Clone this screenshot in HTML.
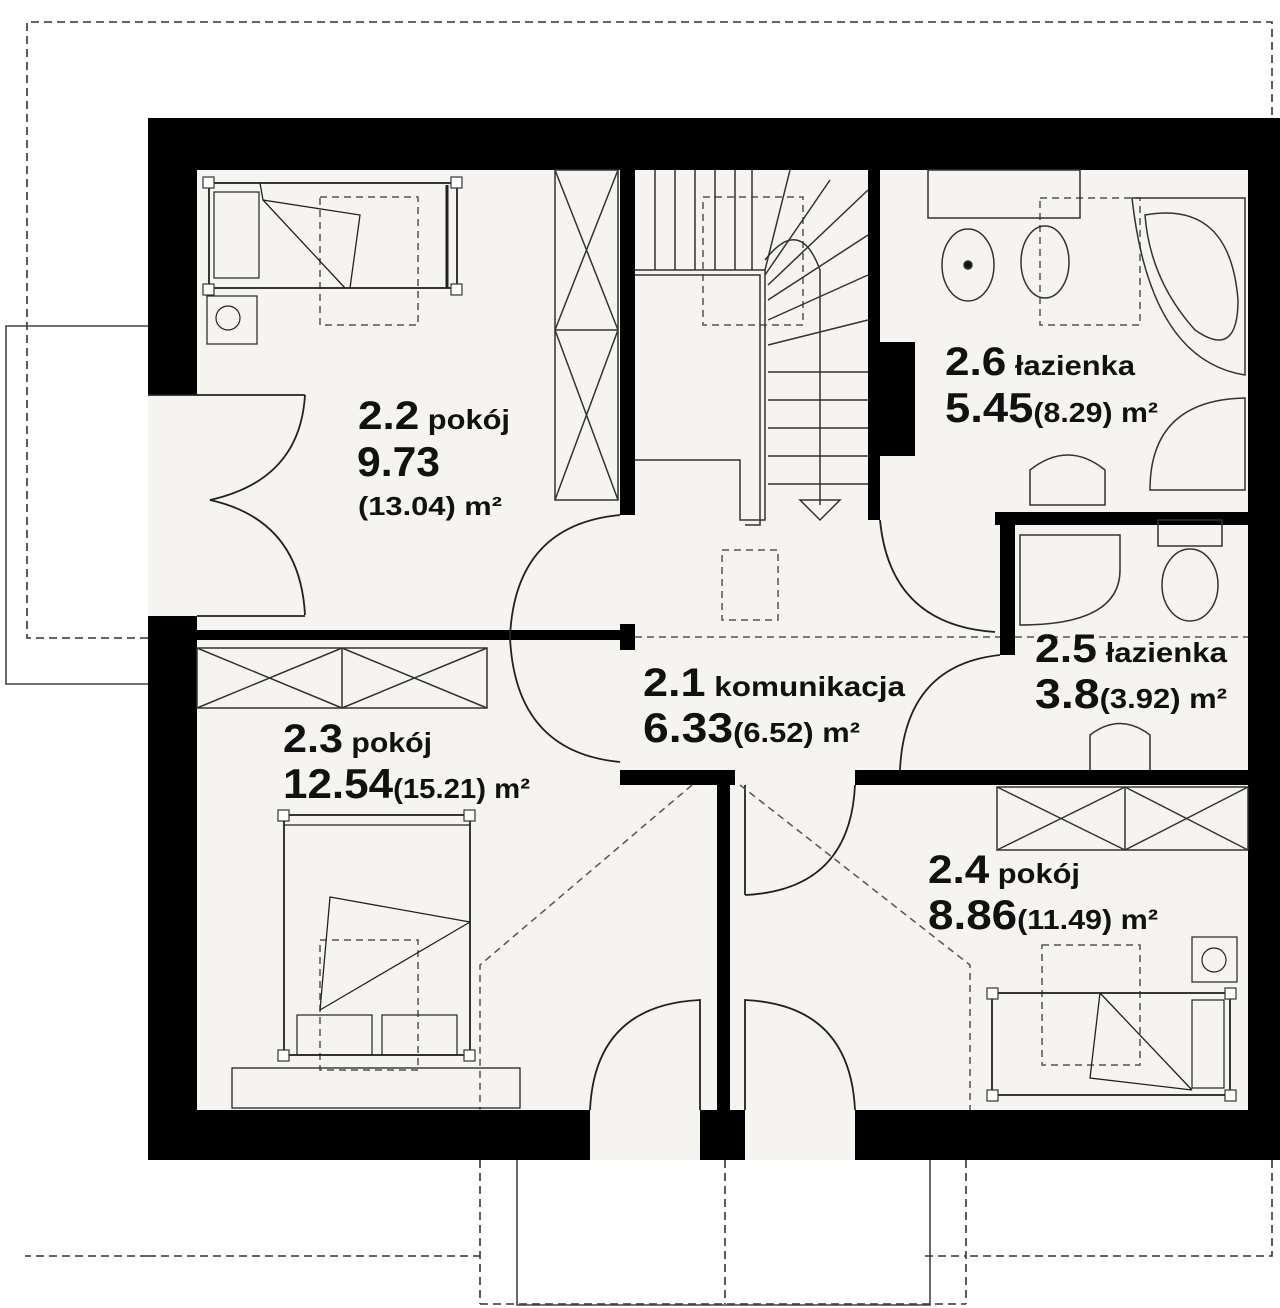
<!DOCTYPE html>
<html><head><meta charset="utf-8"><style>
html,body{margin:0;padding:0;background:#fff;}
svg{display:block;}
text{font-family:"Liberation Sans",sans-serif;font-weight:bold;fill:#111;}
</style></head><body>
<svg width="1280" height="1308" viewBox="0 0 1280 1308" xmlns="http://www.w3.org/2000/svg">
<g fill="none" stroke="#333" stroke-width="1.6" stroke-dasharray="8,5">
<polyline points="148,638 27,638 27,22 1272,22 1272,1256 968,1256"/>
<line x1="148" y1="1256" x2="25" y2="1256"/>
<line x1="148" y1="1256" x2="480" y2="1256"/>
<line x1="480" y1="1160" x2="480" y2="1304"/>
<line x1="966" y1="1160" x2="966" y2="1304"/>
<line x1="725" y1="1160" x2="725" y2="1304"/>
<line x1="480" y1="1304" x2="966" y2="1304"/>
<line x1="925" y1="1256" x2="966" y2="1256"/>
</g>
<g fill="none" stroke="#444" stroke-width="1.6">
<polyline points="148,326 6,326 6,684 148,684"/>
<polyline points="517,1160 517,1305 930,1305 930,1160"/>
</g>
<rect x="148" y="118" width="1132" height="1042" fill="#f6f4f0"/>
<g fill="#000">
<rect x="148" y="118" width="1132" height="52"/>
<rect x="1248" y="118" width="32" height="1042"/>
<rect x="148" y="118" width="49" height="277"/>
<rect x="148" y="616" width="49" height="544"/>
<rect x="148" y="1110" width="442" height="50"/>
<rect x="700" y="1110" width="45" height="50"/>
<rect x="855" y="1110" width="425" height="50"/>
<rect x="620" y="170" width="15" height="345"/>
<rect x="197" y="630" width="423" height="10"/>
<rect x="620" y="624" width="15" height="26"/>
<rect x="868" y="170" width="12" height="350"/>
<rect x="880" y="342" width="35" height="114"/>
<rect x="995" y="512" width="253" height="13"/>
<rect x="1000" y="512" width="15" height="143"/>
<rect x="620" y="770" width="115" height="15"/>
<rect x="855" y="770" width="393" height="15"/>
<rect x="717" y="770" width="13" height="340"/>
</g>
<g fill="none" stroke="#222" stroke-width="1.8">
<line x1="148" y1="395" x2="305" y2="395"/>
<path d="M305,395 Q300,480 210,500 Q300,520 305,615"/>
<line x1="197" y1="616" x2="305" y2="616"/>
<path d="M620,515 Q515,525 510,637 Q515,752 620,762"/>
<path d="M880,520 Q890,625 995,632"/>
<path d="M1000,655 Q905,665 900,770"/>
<line x1="745" y1="785" x2="745" y2="895"/>
<path d="M745,895 Q850,890 855,785"/>
<path d="M590,1110 Q595,1005 700,1000 L700,1110"/>
<path d="M745,1110 L745,1000 Q850,1005 855,1110"/>
</g>
<g fill="none" stroke="#555" stroke-width="1.5" stroke-dasharray="7,5">
<line x1="635" y1="637" x2="1000" y2="637"/>
<line x1="1015" y1="637" x2="1248" y2="637"/>
<rect x="703" y="197" width="100" height="128"/>
<rect x="722" y="550" width="56" height="70"/>
<rect x="320" y="197" width="98" height="128"/>
<rect x="1040" y="198" width="100" height="127"/>
<rect x="320" y="940" width="98" height="130"/>
<rect x="1042" y="945" width="98" height="120"/>
<polyline points="692,785 480,965 480,1110"/>
<polyline points="740,785 970,965 970,1110"/>
</g>
<g fill="none" stroke="#333" stroke-width="1.5">
<rect x="555" y="170" width="63" height="330"/>
<line x1="555" y1="330" x2="618" y2="330"/>
<path d="M555,170 L618,330 M618,170 L555,330 M555,330 L618,500 M618,330 L555,500"/>
<rect x="197" y="648" width="290" height="60"/>
<line x1="342" y1="648" x2="342" y2="708"/>
<path d="M197,648 L342,708 M342,648 L197,708 M342,648 L487,708 M487,648 L342,708"/>
<rect x="997" y="787" width="251" height="63"/>
<line x1="1125" y1="787" x2="1125" y2="850"/>
<path d="M997,787 L1125,850 M1125,787 L997,850 M1125,787 L1248,850 M1248,787 L1125,850"/>
</g>
<g fill="none" stroke="#333" stroke-width="1.5">
<path d="M655,170 V270 M675,170 V270 M695,170 V270 M715,170 V270 M735,170 V270 M752,170 V270"/>
<polyline points="635,270 765,270 765,520 740,520 740,460 635,460"/>
<polyline points="635,275 760,275 760,525 745,525"/>
<path d="M765,270 L790,170 M765,275 L830,180 M768,285 L868,190 M768,300 L868,235 M768,320 L868,275 M768,345 L868,320"/>
<path d="M768,372 H868 M768,400 H868 M768,428 H868 M768,456 H868 M768,484 H868"/>
<path d="M765,260 Q800,215 820,270 L820,505"/>
<path d="M800,500 H840 L820,520 Z"/>
</g>
<g fill="none" stroke="#222" stroke-width="1.8">
<rect x="209" y="183" width="248" height="105"/>
<rect x="214" y="192" width="45" height="86" stroke-width="1.2"/>
<path d="M260,183 L263,200 L360,215 L350,288 M263,200 L345,288" stroke-width="1.3"/>
<line x1="447" y1="185" x2="447" y2="288" stroke-width="3"/>
<rect x="207" y="296" width="50" height="48" stroke-width="1.2"/>
<circle cx="228" cy="318" r="12" stroke-width="1.2"/>
<rect x="284" y="815" width="186" height="240"/>
<line x1="284" y1="825" x2="470" y2="825" stroke-width="1.2"/>
<path d="M320,1010 L330,897 L470,922 M320,1010 L470,922" stroke-width="1.3"/>
<rect x="297" y="1015" width="75" height="40" stroke-width="1.2"/>
<rect x="382" y="1015" width="75" height="40" stroke-width="1.2"/>
<rect x="232" y="1068" width="288" height="40" stroke-width="1.3"/>
<rect x="992" y="993" width="238" height="102"/>
<rect x="1192" y="1000" width="32" height="88" stroke-width="1.2"/>
<path d="M1100,993 L1090,1078 L1192,1090 M1100,993 L1192,1090" stroke-width="1.3"/>
<rect x="1192" y="937" width="45" height="45" stroke-width="1.2"/>
<circle cx="1214" cy="960" r="12" stroke-width="1.2"/>
</g>
<g fill="#fff" stroke="#333" stroke-width="1.2">
<rect x="203" y="177" width="11" height="11"/><rect x="451" y="177" width="11" height="11"/>
<rect x="203" y="284" width="11" height="11"/><rect x="451" y="284" width="11" height="11"/>
<rect x="278" y="810" width="11" height="11"/><rect x="464" y="810" width="11" height="11"/>
<rect x="278" y="1050" width="11" height="11"/><rect x="464" y="1050" width="11" height="11"/>
<rect x="987" y="988" width="11" height="11"/><rect x="1225" y="988" width="11" height="11"/>
<rect x="987" y="1090" width="11" height="11"/><rect x="1225" y="1090" width="11" height="11"/>
</g>
<g fill="none" stroke="#333" stroke-width="1.5">
<rect x="928" y="170" width="152" height="48"/>
<ellipse cx="968" cy="265" rx="26" ry="36"/>
<circle cx="968" cy="265" r="4" fill="#111"/>
<ellipse cx="1045" cy="262" rx="24" ry="36"/>
<path d="M1132,198 H1245 V375 Q1150,360 1132,198 Z"/>
<path d="M1145,215 Q1230,200 1238,300 Q1238,360 1195,330 Q1150,280 1145,215 Z"/>
<path d="M1245,398 V490 H1150 Q1150,400 1245,398 Z"/>
<path d="M1030,505 V470 Q1068,440 1105,470 V505 Z"/>
<path d="M1020,535 H1120 V570 Q1120,625 1020,625 Z"/>
<rect x="1158" y="520" width="64" height="26"/>
<ellipse cx="1190" cy="585" rx="28" ry="36"/>
<path d="M1090,770 V735 Q1120,712 1150,735 V770"/>
</g>
<text x="358" y="429" textLength="152" lengthAdjust="spacingAndGlyphs" font-size="40">2.2<tspan font-size="28"> pokój</tspan></text>
<text x="357" y="476" textLength="83" lengthAdjust="spacingAndGlyphs" font-size="42">9.73</text>
<text x="358" y="515" textLength="144" lengthAdjust="spacingAndGlyphs" font-size="26">(13.04) m²</text>
<text x="945" y="375" textLength="190" lengthAdjust="spacingAndGlyphs" font-size="40">2.6<tspan font-size="28"> łazienka</tspan></text>
<text x="945" y="422" textLength="213" lengthAdjust="spacingAndGlyphs" font-size="42">5.45<tspan font-size="28">(8.29) m²</tspan></text>
<text x="1035" y="662" textLength="192" lengthAdjust="spacingAndGlyphs" font-size="40">2.5<tspan font-size="28"> łazienka</tspan></text>
<text x="1035" y="708" textLength="192" lengthAdjust="spacingAndGlyphs" font-size="42">3.8<tspan font-size="28">(3.92) m²</tspan></text>
<text x="643" y="696" textLength="262" lengthAdjust="spacingAndGlyphs" font-size="40">2.1<tspan font-size="28"> komunikacja</tspan></text>
<text x="643" y="742" textLength="217" lengthAdjust="spacingAndGlyphs" font-size="42">6.33<tspan font-size="28">(6.52) m²</tspan></text>
<text x="283" y="752" textLength="149" lengthAdjust="spacingAndGlyphs" font-size="40">2.3<tspan font-size="28"> pokój</tspan></text>
<text x="283" y="798" textLength="247" lengthAdjust="spacingAndGlyphs" font-size="42">12.54<tspan font-size="28">(15.21) m²</tspan></text>
<text x="928" y="883" textLength="152" lengthAdjust="spacingAndGlyphs" font-size="40">2.4<tspan font-size="28"> pokój</tspan></text>
<text x="928" y="929" textLength="230" lengthAdjust="spacingAndGlyphs" font-size="42">8.86<tspan font-size="28">(11.49) m²</tspan></text>
</svg>
</body></html>
